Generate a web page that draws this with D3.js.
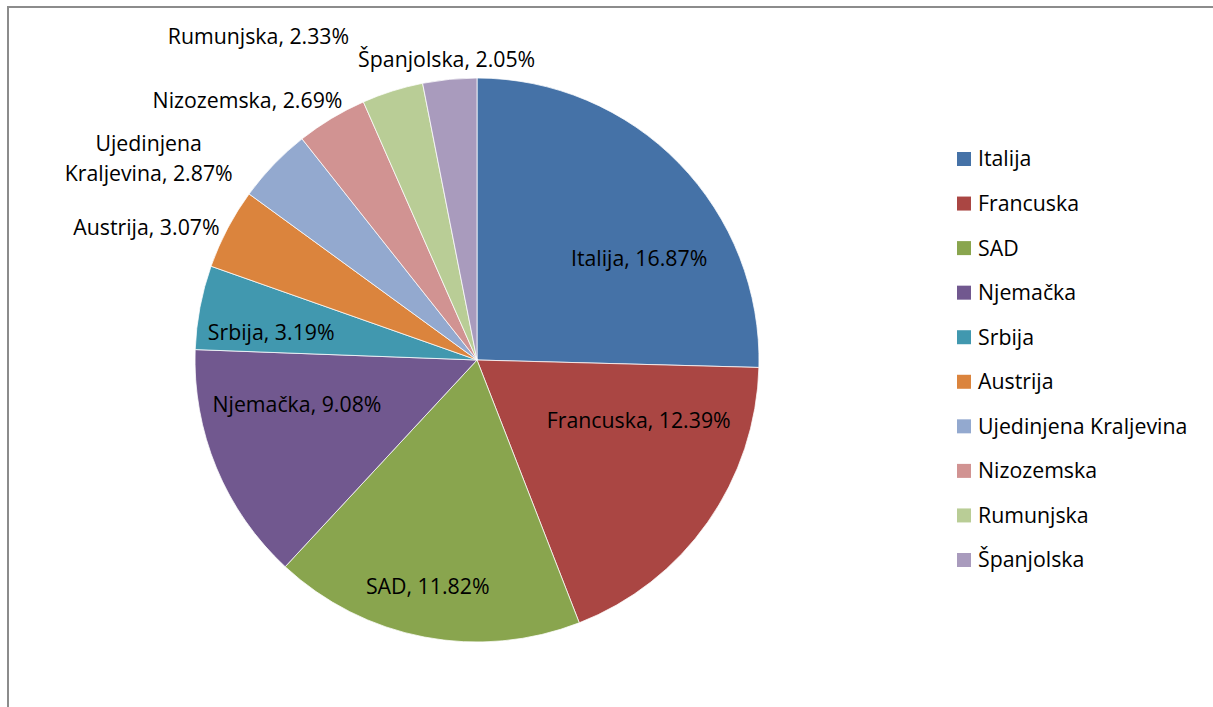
<!DOCTYPE html>
<html>
<head>
<meta charset="utf-8">
<script src="https://cdnjs.cloudflare.com/ajax/libs/d3/7.8.5/d3.min.js"></script>
<style>
  html, body { margin: 0; padding: 0; background: #fff; }
  svg { display: block; }
  text { font-family: "Open Sans", Lato, sans-serif; fill: #000; }
</style>
</head>
<body>
<div id="chart"></div>
<script>
var width = 1213;
var height = 707;

// data
var countries = ["Italija", "Francuska", "SAD", "Njemačka", "Srbija", "Austrija",
  "Ujedinjena Kraljevina", "Nizozemska", "Rumunjska", "Španjolska"];
var shares = [16.87, 12.39, 11.82, 9.08, 3.19, 3.07, 2.87, 2.69, 2.33, 2.05];
var sliceColors = ["#4572A7", "#AA4643", "#89A54E", "#71588F", "#4198AF",
  "#DB843D", "#93A9CF", "#D19392", "#B9CD96", "#A99BBD"];

// layout
var cx = 477, cy = 360, radius = 282;
var fontSize = 21.3;
// label placement: inside labels hang off the centroid, outside ones off the rim
var labelInside = [true, true, true, true, true, false, false, false, false, false];
var labelNudge = [[31, 26], [12, -45], [-15, 47], [-11, -26], [-26, 7],
  [-81, -1], [-125, -6], [-84, -18], [-134, -54], [-3, -20]];
var labelLines = { 6: ["Ujedinjena", "Kraljevina, 2.87%"] };

var rows = countries.map(function (c, i) {
  return { name: c, value: shares[i], color: sliceColors[i], i: i };
});

var svg = d3.select("#chart")
  .append("svg")
  .attr("width", width)
  .attr("height", height);

// chart frame (runs off the page on the right and bottom)
svg.append("rect")
  .attr("x", 8)
  .attr("y", 7)
  .attr("width", width + 20)
  .attr("height", height + 20)
  .attr("fill", "#fff")
  .attr("stroke", "#8c8c8c")
  .attr("stroke-width", 2);

var pie = d3.pie()
  .sort(null)
  .value(function (d) { return d.value; });

var arc = d3.arc()
  .innerRadius(0)
  .outerRadius(radius);

var centroidArc = d3.arc()
  .innerRadius(183 * 2)
  .outerRadius(0);

var arcs = pie(rows);

var g = svg.append("g")
  .attr("transform", "translate(" + cx + "," + cy + ")");

g.selectAll("path")
  .data(arcs)
  .enter()
  .append("path")
  .attr("d", arc)
  .attr("fill", function (d) { return d.data.color; })
  .attr("stroke", "#fff")
  .attr("stroke-width", 0.75);

// data labels
var labels = g.selectAll("text.lbl")
  .data(arcs)
  .enter()
  .append("text")
  .attr("class", "lbl")
  .attr("text-anchor", "middle")
  .style("font-size", fontSize + "px")
  .attr("transform", function (d) {
    var i = d.data.i;
    var mid = (d.startAngle + d.endAngle) / 2;
    var p;
    if (labelInside[i]) {
      p = centroidArc.centroid(d);
    } else {
      p = [Math.sin(mid) * radius, -Math.cos(mid) * radius];
    }
    return "translate(" + (p[0] + labelNudge[i][0]) + "," + (p[1] + labelNudge[i][1]) + ")";
  });

labels.each(function (d) {
  var el = d3.select(this);
  var i = d.data.i;
  var lines = labelLines[i] || [d.data.name + ", " + d.data.value.toFixed(2) + "%"];
  var lh = 30;
  var top = -(lines.length - 1) * lh / 2;
  lines.forEach(function (t, k) {
    el.append("tspan")
      .attr("x", 0)
      .attr("y", top + k * lh)
      .attr("dy", "0.35em")
      .text(t);
  });
});

// legend
var legendY = d3.scalePoint()
  .domain(countries)
  .range([159, 560]);

var legend = svg.selectAll("g.legend")
  .data(rows)
  .enter()
  .append("g")
  .attr("class", "legend")
  .attr("transform", function (d) {
    return "translate(957," + legendY(d.name) + ")";
  });

legend.append("rect")
  .attr("x", 0)
  .attr("y", -7)
  .attr("width", 14)
  .attr("height", 14)
  .attr("fill", function (d) { return d.color; });

legend.append("text")
  .attr("x", 21)
  .attr("y", 0)
  .attr("dy", "0.35em")
  .style("font-size", fontSize + "px")
  .text(function (d) { return d.name; });
</script>
</body>
</html>
